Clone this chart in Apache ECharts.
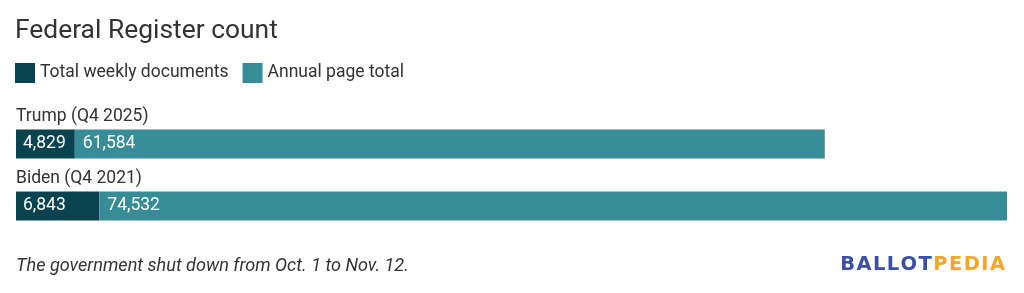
<!DOCTYPE html>
<html><head><meta charset="utf-8">
<script src="https://cdn.jsdelivr.net/npm/echarts@6/dist/echarts.min.js"></script>
<style>html,body{margin:0;padding:0;background:#fff}#c{width:1024px;height:293px}</style>
</head><body><div id="c"></div>
<script>
const categories = ['Trump (Q4 2025)', 'Biden (Q4 2021)'];
const weeklyDocs = [4829, 6843];
const annualPages = [61584, 74532];
const seriesNames = ['Total weekly documents', 'Annual page total'];
const titleText = 'Federal Register count';
const noteText = 'The government shut down from Oct. 1 to Nov. 12.';
const logoParts = ['BALLOT', 'PEDIA'];

const totals = categories.map((c, i) => weeklyDocs[i] + annualPages[i]);
const maxTotal = Math.max(...totals);
const fmt = v => v.toLocaleString('en-US');
const font = 'Roboto, sans-serif';
const logoText = logoParts.map((p, k) => p.split('').map(ch => '{' + (k ? 'b' : 'a') + '|' + ch + '}').join('')).join('');

const chart = echarts.init(document.getElementById('c'), null, {renderer: 'canvas'});
chart.setOption({
  animation: false,
  title: {
    text: titleText, left: 15, top: 18, padding: 0,
    textStyle: {fontFamily: font, fontSize: 26.4, fontWeight: 'normal', color: '#333'}
  },
  legend: {
    left: 15, top: 63, padding: 0, itemWidth: 20, itemHeight: 20, itemGap: 14, icon: 'rect',
    textStyle: {fontFamily: font, fontSize: 17.5, color: '#333'},
    data: seriesNames
  },
  grid: {left: 16, right: 17, top: 113, bottom: 56, containLabel: false},
  xAxis: {type: 'value', min: 0, max: maxTotal, show: false},
  yAxis: {
    type: 'category', data: categories, inverse: true,
    axisLine: {show: false}, axisTick: {show: false},
    axisLabel: {
      inside: true, margin: 0, align: 'left', verticalAlign: 'bottom',
      padding: [0, 0, 18, 0],
      fontFamily: font, fontSize: 17.5, color: '#333'
    }
  },
  series: [
    {
      name: seriesNames[0], type: 'bar', stack: 't', data: weeklyDocs, barWidth: 29,
      itemStyle: {color: '#0a4350'},
      label: {show: true, position: 'insideLeft', distance: 7, formatter: p => fmt(p.value),
        fontFamily: font, fontSize: 17.5, color: '#fff'}
    },
    {
      name: seriesNames[1], type: 'bar', stack: 't', data: annualPages, barWidth: 29,
      itemStyle: {color: '#368c97'},
      label: {show: true, position: 'insideLeft', distance: 8, formatter: p => fmt(p.value),
        fontFamily: font, fontSize: 17.5, color: '#fff'}
    }
  ],
  graphic: [
    {type: 'text', left: 16, top: 257, style: {text: noteText, fontFamily: font, fontSize: 18.1,
      fontStyle: 'italic', fill: '#333'}},
    {type: 'text', right: 19, top: 255, style: {
      text: logoText,
      rich: {
        a: {fontFamily: 'DejaVu Sans', fontSize: 19.5, fontWeight: 'bold', fill: '#3b4ea8', padding: [0, 0.7, 0, 0.7]},
        b: {fontFamily: 'DejaVu Sans', fontSize: 19.5, fontWeight: 'bold', fill: '#f4a62a', padding: [0, 0.7, 0, 0.7]}
      }
    }}
  ]
});
</script></body></html>
